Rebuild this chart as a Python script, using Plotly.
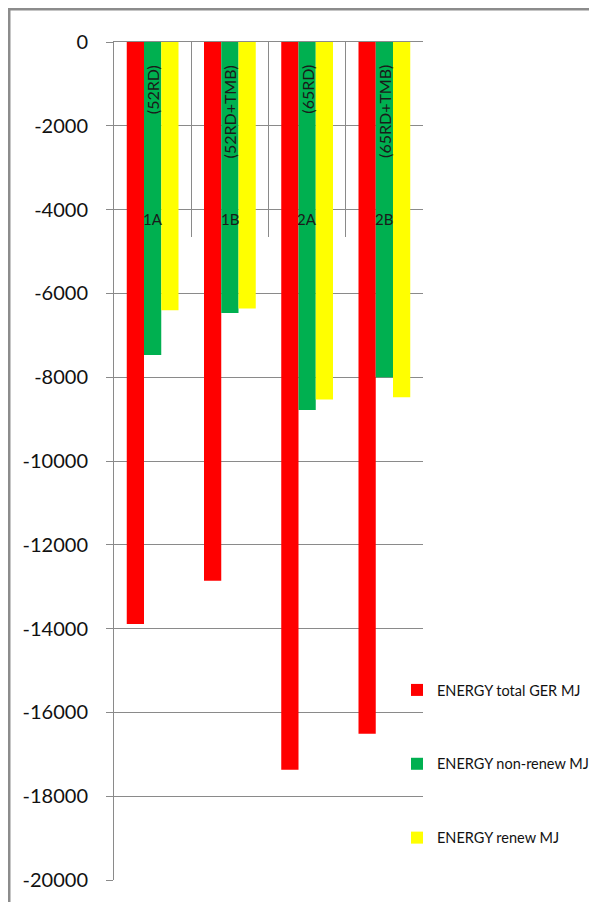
import plotly.graph_objects as go

categories = ["1A", "1B", "2A", "2B"]
subtitles = ["(52RD)", "(52RD+TMB)", "(65RD)", "(65RD+TMB)"]
total_ger = [-13890, -12860, -17370, -16510]
non_renew = [-7470, -6470, -8780, -8000]
renew = [-6400, -6360, -8530, -8480]
series_names = ["ENERGY total GER MJ", "ENERGY non-renew MJ", "ENERGY renew MJ"]
colors = ["#FF0000", "#00B050", "#FFFF00"]
y_ticks = list(range(0, -20001, -2000))
y_ticktext = [str(v) for v in y_ticks]

FONT = "Lato, Open Sans, sans-serif"

# page body has an 8px margin, so the figure is sized to fit the 597x902 window
W, H = 589, 894

fig = go.Figure()
for i, (name, vals, col) in enumerate(zip(series_names, [total_ger, non_renew, renew], colors)):
    fig.add_trace(go.Bar(
        x=categories, y=vals, name=name, marker=dict(color=col, line=dict(width=0)),
        legendgroup=f"g{i}",
    ))

annotations = []
for c, s in zip(categories, subtitles):
    annotations.append(dict(x=c, y=-4225, xref="x", yref="y", text=c, showarrow=False,
                            xanchor="center", yanchor="middle",
                            font=dict(family=FONT, size=15, color="#1a1a1a")))
    annotations.append(dict(x=c, y=0, xref="x", yref="y", text=s, showarrow=False,
                            textangle=-90, xanchor="center", yanchor="top", yshift=-21,
                            font=dict(family=FONT, size=16, color="#1a1a1a")))

fig.update_layout(
    width=W, height=H,
    margin=dict(l=106, r=174, t=34, b=22, autoexpand=False),
    paper_bgcolor="white", plot_bgcolor="white",
    barmode="group", bargap=0.33, bargroupgap=0,
    font=dict(family=FONT, size=20, color="#111"),
    showlegend=True,
    legend=dict(xref="container", yref="container", x=389 / W, y=1 - 666 / H,
                xanchor="left", yanchor="top",
                font=dict(family=FONT, size=14.5, color="#111"),
                tracegroupgap=52, itemwidth=30, bgcolor="rgba(0,0,0,0)"),
    annotations=annotations,
    shapes=[dict(type="rect", xref="paper", yref="paper",
                 x0=-0.339, x1=2.0, y0=-0.2, y1=1.0391,
                 line=dict(color="#8c8c8c", width=2.5), layer="below")],
    xaxis=dict(side="top", showticklabels=False, showline=True, linecolor="#8a8a8a",
               linewidth=1, ticks="inside", tickson="boundaries", ticklen=195,
               tickcolor="#8a8a8a", tickwidth=1, showgrid=False, fixedrange=True,
               automargin=False),
    yaxis=dict(range=[-20000, 0], tickvals=y_ticks, ticktext=y_ticktext,
               showline=True, linecolor="#8a8a8a", linewidth=1,
               ticks="outside", ticklen=7, tickcolor="#8a8a8a",
               showgrid=True, gridcolor="#8a8a8a", gridwidth=1, zeroline=False,
               automargin=False,
               ticklabelstandoff=14, tickfont=dict(family=FONT, size=20, color="#111")),
)

fig.write_html("out.html")
